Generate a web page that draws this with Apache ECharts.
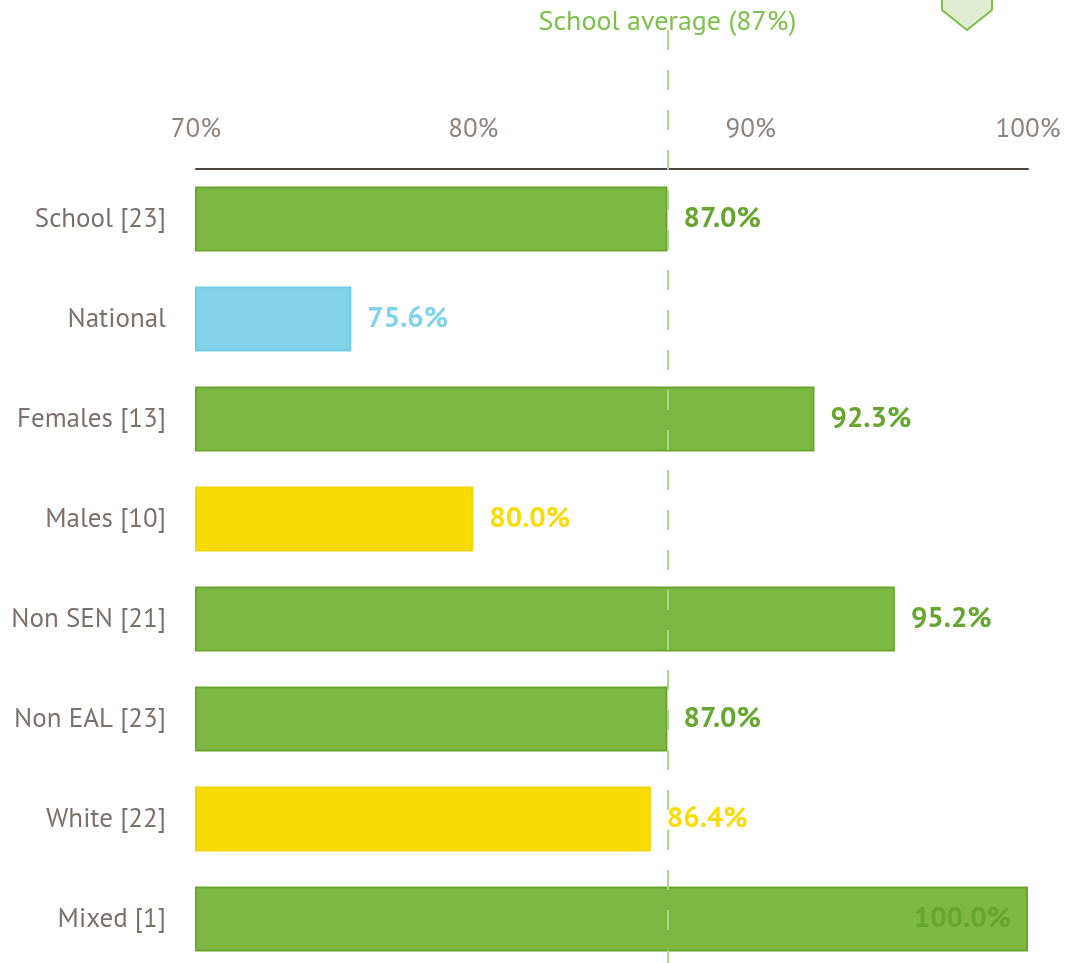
<!DOCTYPE html>
<html>
<head>
<meta charset="utf-8">
<script src="https://cdn.jsdelivr.net/npm/echarts@6/dist/echarts.min.js"></script>
<style>
  html, body { margin: 0; padding: 0; background: #fff; overflow: hidden; }
  #chart { width: 1072px; height: 969px; }
</style>
</head>
<body>
<div id="chart"></div>
<script>
// groups on the y axis
const categories = ['School [23]', 'National', 'Females [13]', 'Males [10]', 'Non SEN [21]', 'Non EAL [23]', 'White [22]', 'Mixed [1]'];
const values = [87.0, 75.6, 92.3, 80.0, 95.2, 87.0, 86.4, 100.0];
const tickLabels = ['70%', '80%', '90%', '100%'];
const schoolAverage = 87;
const targetValue = 97.8;

const GREEN = '#7db843', GREEN_EDGE = '#67a72d', GREEN_TEXT = '#66a530';
const BLUE = '#82d3ea', BLUE_EDGE = '#73cbe6';
const YELLOW = '#f9dc06', YELLOW_EDGE = '#f2d505';
const FONT = '"PT Sans", "Noto Sans", sans-serif';

// national = blue, at/above school average = green, below = yellow
function colourFor(i) {
    if (categories[i] === 'National') return [BLUE, BLUE_EDGE, BLUE];
    if (values[i] >= schoolAverage) return [GREEN, GREEN_EDGE, GREEN_TEXT];
    return [YELLOW, YELLOW_EDGE, YELLOW];
}

let barData = values.map(function (v, i) {
    let c = colourFor(i);
    let item = {
        value: v,
        itemStyle: { color: c[0], borderColor: c[1], borderWidth: 2 },
        label: { color: c[2] }
    };
    if (v >= 100) {
        item.label = { position: 'insideRight', distance: 17, color: '#66a52f' };
    }
    return item;
});

let chart = echarts.init(document.getElementById('chart'));
chart.setOption({
    animation: false,
    backgroundColor: '#fff',
    grid: { left: 196, right: 44, top: 169, bottom: 0 },
    xAxis: {
        type: 'value',
        position: 'top',
        min: 70,
        max: 100,
        interval: 10,
        axisLine: { show: true, lineStyle: { color: '#4e4541', width: 2 } },
        axisTick: { show: false },
        splitLine: { show: false },
        axisLabel: {
            margin: 26,
            color: '#8d827c',
            fontSize: 27,
            fontFamily: FONT,
            formatter: function (v) { return tickLabels[(v - 70) / 10]; }
        }
    },
    yAxis: {
        type: 'category',
        inverse: true,
        data: categories,
        axisLine: { show: false },
        axisTick: { show: false },
        axisLabel: { margin: 30, color: '#7b716c', fontSize: 27, fontFamily: FONT }
    },
    series: [{
        type: 'bar',
        barWidth: 65,
        data: barData,
        label: {
            show: true,
            position: 'right',
            distance: 16,
            fontSize: 29,
            fontWeight: 'bold',
            fontFamily: FONT,
            formatter: function (p) { return p.value.toFixed(1) + '%'; }
        },
        markLine: {
            silent: true,
            symbol: 'none',
            lineStyle: { color: '#a9d68c', width: 2, type: [20, 20] },
            label: {
                show: true,
                position: 'start',
                distance: -6,
                color: '#7cc04a',
                fontSize: 28,
                fontFamily: FONT,
                formatter: 'School average (' + schoolAverage + '%)'
            },
            data: [[{ xAxis: schoolAverage, y: 30 }, { xAxis: schoolAverage, y: 969 }]]
        },
        markPoint: {
            silent: true,
            symbol: 'path://M0,0L50,0L50,34L25,54L0,34Z',
            symbolSize: [50, 54],
            itemStyle: { color: '#e1edd3', borderColor: '#7cbd42', borderWidth: 2 },
            label: { show: false },
            data: [{ coord: [targetValue, 0], y: 3 }]
        }
    }]
});
</script>
</body>
</html>
